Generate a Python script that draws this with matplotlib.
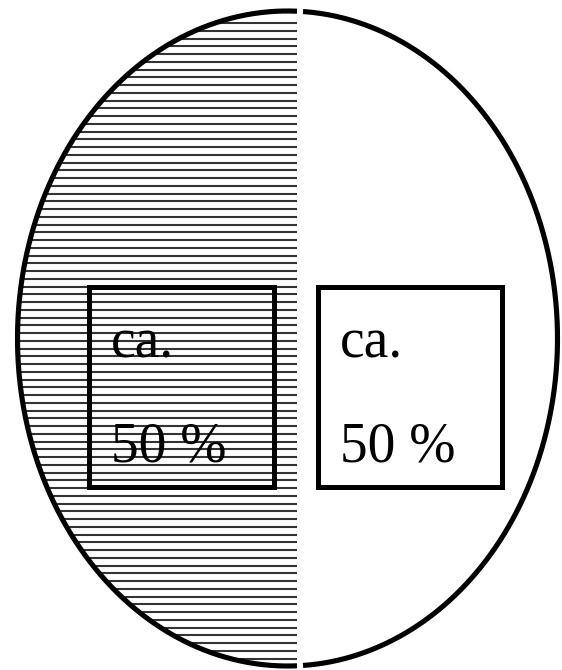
import matplotlib
matplotlib.use("Agg")
import matplotlib.pyplot as plt
from matplotlib.patches import Polygon, Rectangle
import numpy as np

# Data: two halves, each about 50 %
shares = [50, 50]
prefixes = ["ca.", "ca."]
values = ["%d %%" % s for s in shares]

W, H = 562, 670
fig = plt.figure(figsize=(W / 100, H / 100), dpi=100)
ax = fig.add_axes([0, 0, 1, 1])
ax.set_xlim(0, W)
ax.set_ylim(H, 0)
ax.axis("off")

# Ellipse geometry (pixel space)
cx, cy, a, b = 287.5, 338.5, 270, 327.5
split_left, split_right = 297, 303

# left half outline: x <= split_left
t_left = np.arccos((split_left - cx) / a)
tl = np.linspace(t_left, 2 * np.pi - t_left, 800)
lx = cx + a * np.cos(tl)
ly = cy - b * np.sin(tl)
# right half outline
t_right = np.arccos((split_right - cx) / a)
tr = np.linspace(-t_right, t_right, 800)
rx = cx + a * np.cos(tr)
ry = cy - b * np.sin(tr)

# hatched left half
clip = Polygon(np.column_stack([lx, ly]), closed=True, facecolor="none",
               edgecolor="none", transform=ax.transData)
ax.add_patch(clip)
hy = np.arange(23, 670, 7.75)
hl = ax.hlines(hy, 0, split_left, colors="#333333", linewidth=1.5, zorder=1)
hl.set_clip_path(clip)

ax.plot(lx, ly, color="black", lw=3.7, solid_capstyle="butt", zorder=3)
ax.plot(rx, ry, color="black", lw=3.7, solid_capstyle="butt", zorder=3)

# label boxes
boxes = [(89, 287, 185, 200), (318, 287, 184, 200)]
for (bx, by, bw, bh), pre, val in zip(boxes, prefixes, values):
    ax.add_patch(Rectangle((bx, by), bw, bh, fill=False, edgecolor="black",
                           lw=3.6, zorder=4))
    ax.text(bx + 22, 357, pre, family="Liberation Serif", fontsize=40,
            va="baseline", ha="left", zorder=5)
    ax.text(bx + 22, 462, val, family="Liberation Serif", fontsize=40,
            va="baseline", ha="left", zorder=5)

fig.savefig("out.png", dpi=100)
